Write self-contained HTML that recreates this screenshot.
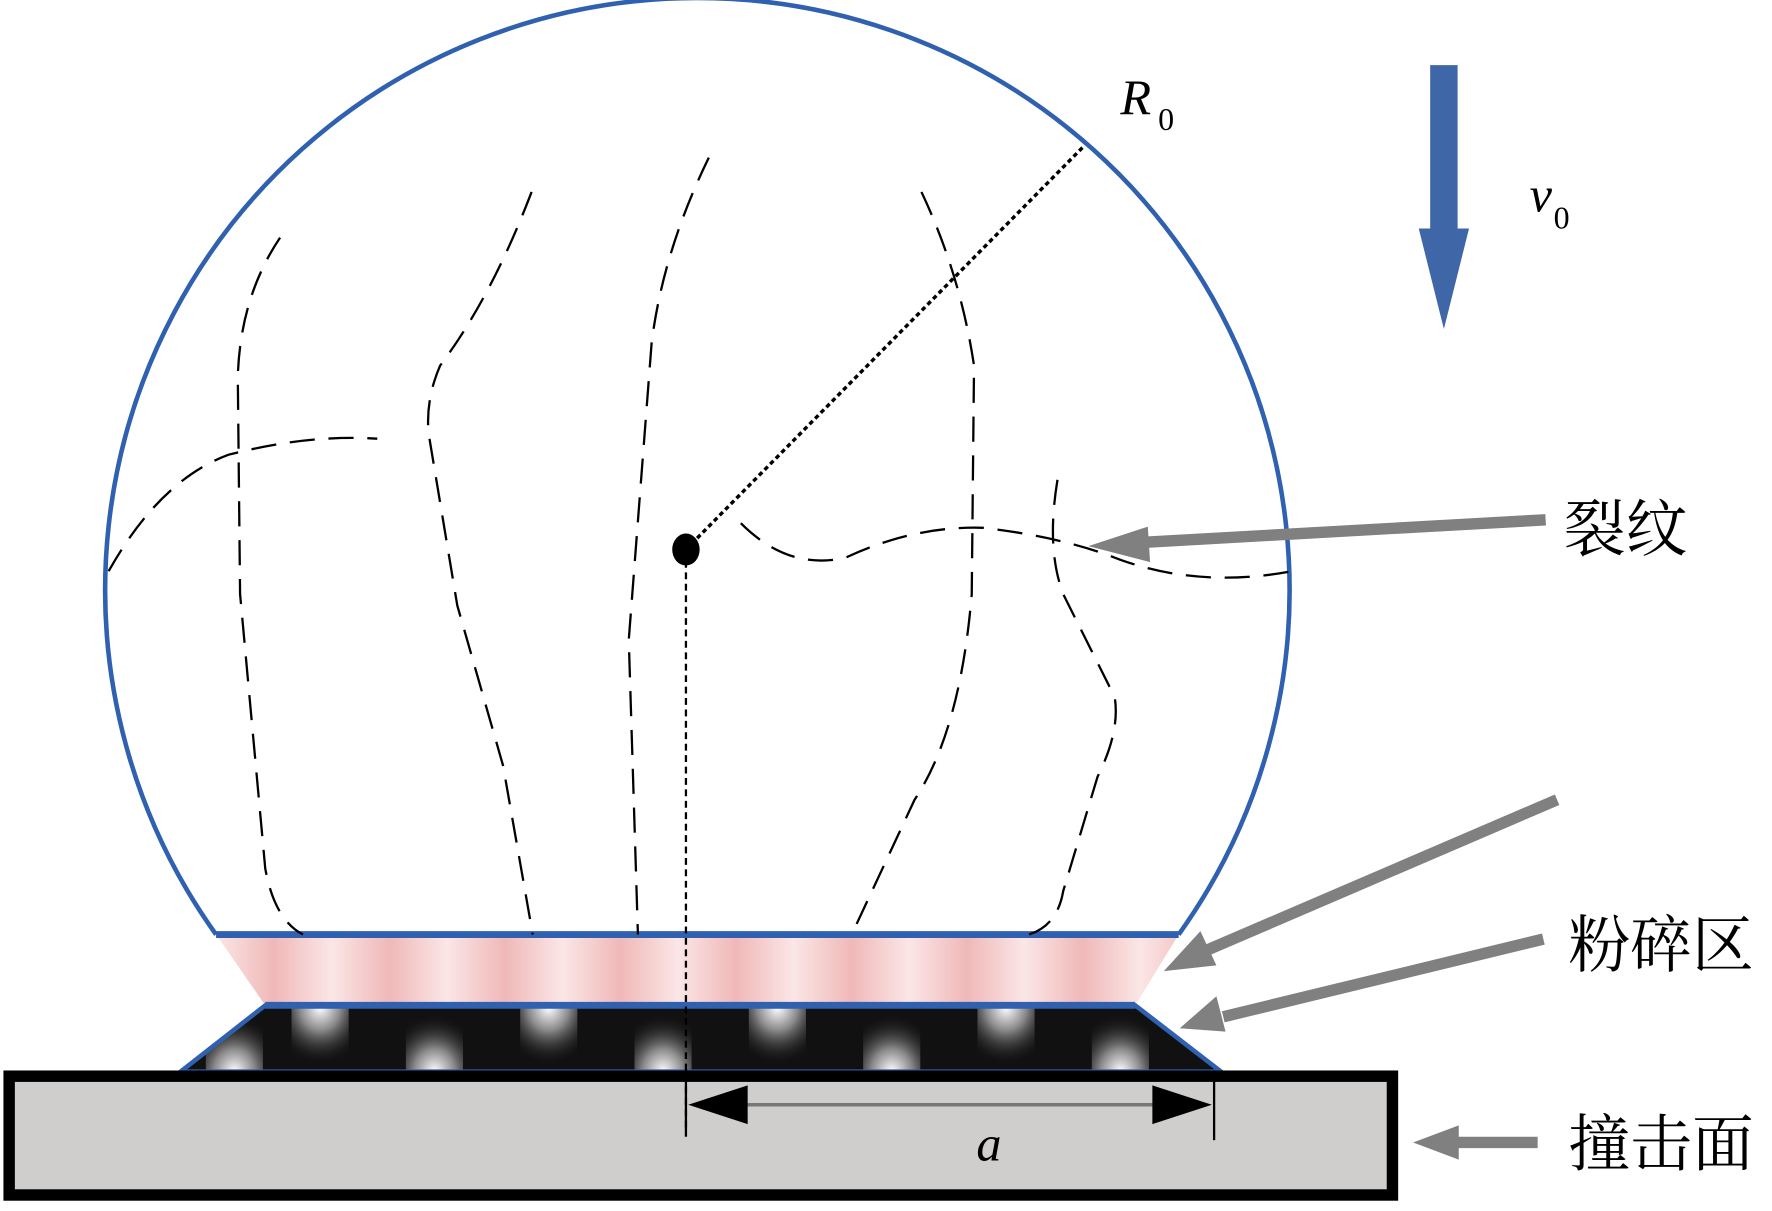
<!DOCTYPE html>
<html><head><meta charset="utf-8"><style>html,body{margin:0;padding:0;background:#fff}svg{display:block}</style></head>
<body>
<svg width="1772" height="1211" viewBox="0 0 1550 1060" preserveAspectRatio="none" xmlns="http://www.w3.org/2000/svg">
<defs>
<linearGradient id="pk" x1="0" y1="0" x2="1" y2="0" spreadMethod="repeat" gradientTransform="scale(0.12)">
<stop offset="0" stop-color="#fbe6e6"/><stop offset="0.5" stop-color="#f0b8b8"/><stop offset="1" stop-color="#fbe6e6"/></linearGradient>
<radialGradient id="wb" cx="0.5" cy="1" r="0.9"><stop offset="0" stop-color="#fff"/><stop offset="0.4" stop-color="#888"/><stop offset="1" stop-color="#111" stop-opacity="0"/></radialGradient>
<radialGradient id="wt" cx="0.5" cy="0" r="0.9"><stop offset="0" stop-color="#fff"/><stop offset="0.4" stop-color="#888"/><stop offset="1" stop-color="#111" stop-opacity="0"/></radialGradient>
</defs>
<path d="M189,818 A518,518 0 1 1 1031,818" fill="none" stroke="#3060b0" stroke-width="4"/>
<polygon points="189,818 1031,818 993,880 232,880" fill="url(#pk)"/>
<line x1="189" y1="818" x2="1031" y2="818" stroke="#3060b0" stroke-width="6"/>
<polygon points="232,880 993,880 1068,938 158,938" fill="#111"/>
<g>
<rect x="180" y="882" width="50" height="56" fill="url(#wb)"/>
<rect x="255" y="882" width="50" height="56" fill="url(#wt)"/>
<rect x="355" y="882" width="50" height="56" fill="url(#wb)"/>
<rect x="455" y="882" width="50" height="56" fill="url(#wt)"/>
<rect x="555" y="882" width="50" height="56" fill="url(#wb)"/>
<rect x="655" y="882" width="50" height="56" fill="url(#wt)"/>
<rect x="755" y="882" width="50" height="56" fill="url(#wb)"/>
<rect x="855" y="882" width="50" height="56" fill="url(#wt)"/>
<rect x="955" y="882" width="50" height="56" fill="url(#wb)"/>
</g>
<polygon points="0,878 232,878 158,938 0,938" fill="#fff"/>
<polygon points="993,878 1100,878 1100,938 1068,938" fill="#fff"/>
<polygon points="232,880 993,880 1068,938 158,938" fill="none" stroke="#3060b0" stroke-width="4"/>
<line x1="232" y1="880" x2="993" y2="880" stroke="#3060b0" stroke-width="6"/>
<rect x="8" y="942" width="1210" height="104" fill="#d0cdcd" stroke="#000" stroke-width="10"/>
<g fill="none" stroke="#000" stroke-width="2" stroke-dasharray="22,12">
<path d="M245,208 Q210,260 208,330 L210,520 L232,760 Q240,805 265,818"/>
<path d="M465,168 Q430,260 385,320 Q372,350 375,380 L400,530 L440,670 L466,818"/>
<path d="M620,138 Q580,220 570,300 L550,560 L558,818"/>
<path d="M806,168 Q840,240 852,320 L850,520 Q840,640 800,700 L745,818"/>
<path d="M925,420 Q915,480 930,520 L975,610 Q980,640 960,680 L930,780 Q925,810 900,818"/>
<path d="M95,500 Q140,420 200,398 Q270,380 330,384"/>
<path d="M648,458 Q690,500 740,488 Q800,460 860,462 Q930,470 980,490 Q1050,515 1130,500"/>
</g>
<line x1="600" y1="481" x2="948" y2="128" stroke="#000" stroke-width="3" stroke-dasharray="4,3"/>
<line x1="600" y1="481" x2="600" y2="990" stroke="#000" stroke-width="2" stroke-dasharray="6,4"/>
<ellipse cx="600" cy="481" rx="12" ry="14" fill="#000"/>
<line x1="600" y1="945" x2="600" y2="995" stroke="#000" stroke-width="2"/>
<line x1="1062" y1="945" x2="1062" y2="998" stroke="#000" stroke-width="2"/>
<line x1="640" y1="967" x2="1020" y2="967" stroke="#777" stroke-width="3"/>
<polygon points="602,967 654,950 654,984" fill="#000"/>
<polygon points="1060,967 1008,950 1008,984" fill="#000"/>
<text x="854" y="1016" font-family="Liberation Serif,serif" font-style="italic" font-size="44">a</text>
<text x="980" y="100" font-family="Liberation Serif,serif" font-style="italic" font-size="44">R</text>
<text x="1013" y="114" font-family="Liberation Serif,serif" font-size="28">0</text>
<text x="1338" y="185" font-family="Liberation Serif,serif" font-style="italic" font-size="44">v</text>
<text x="1359" y="200" font-family="Liberation Serif,serif" font-size="28">0</text>
<rect x="1251" y="57" width="24" height="145" fill="#3f67a8"/>
<polygon points="1241,200 1285,200 1263,288" fill="#3f67a8"/>
<g stroke="#808080" stroke-width="10" fill="#808080">
<line x1="1352" y1="455" x2="995" y2="475"/>
<polygon points="952,478 1004,461 1006,492" stroke="none"/>
<line x1="1362" y1="700" x2="1055" y2="832"/>
<polygon points="1018,850 1050,815 1064,845" stroke="none"/>
<line x1="1350" y1="822" x2="1070" y2="890"/>
<polygon points="1032,900 1064,872 1072,903" stroke="none"/>
<line x1="1345" y1="1000" x2="1270" y2="1000"/>
<polygon points="1236,1000 1276,985 1276,1015" stroke="none"/>
</g>
<g font-family="Liberation Sans,'Noto Serif CJK SC','Noto Sans CJK SC',serif" font-size="54" fill="#000">
<text x="1368" y="482">裂纹</text>
<text x="1372" y="846">粉碎区</text>
<text x="1372" y="1020">撞击面</text>
</g>
</svg>
</body></html>
